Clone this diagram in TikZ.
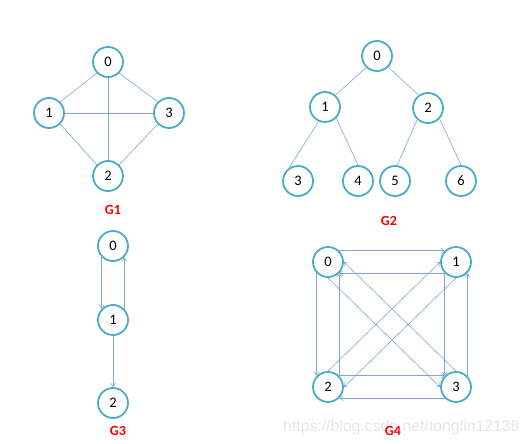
\documentclass[tikz,border=0pt]{standalone}
\usepackage{fontspec}
\setmainfont{Carlito}
\newfontfamily\wmfont{Liberation Sans}
\usetikzlibrary{arrows.meta}
\definecolor{nodeblue}{RGB}{75,172,198}
\definecolor{edgeblue}{RGB}{130,165,212}
\definecolor{labelred}{RGB}{255,0,0}
\definecolor{wmgray}{RGB}{230,230,230}
\begin{document}
\begin{tikzpicture}[x=1pt,y=-1pt,
  vtx/.style={circle,draw=nodeblue,line width=1.8pt,minimum size=30pt,inner sep=0pt,fill=white,font=\fontsize{14.5}{15}\selectfont},
  edge/.style={draw=edgeblue,line width=0.6pt},
  arc/.style={edge,-{Straight Barb[length=3.5pt,width=5pt]}},
  glabel/.style={text=labelred,font=\bfseries\fontsize{14}{15}\selectfont}]
\useasboundingbox (0,0) rectangle (530,444);
% watermark
\node[anchor=base west,text=wmgray,font=\wmfont\fontsize{15.8}{16}\selectfont,inner sep=0pt] (wm) at (283,431) {https://blog.csdn.net/tonglin12138};
% G1
\node[vtx] (a0) at (108,62) {0};
\node[vtx] (a1) at (49,113) {1};
\node[vtx] (a3) at (169,113) {3};
\node[vtx] (a2) at (108,176) {2};
\draw[edge] (a0.south west) -- (a1.north east);
\draw[edge] (a0.south east) -- (a3.north west);
\draw[edge] (a0.south) -- (a2.north);
\draw[edge] (a1.east) -- (a3.west);
\draw[edge] (a1.south east) -- (a2.north west);
\draw[edge] (a3.south west) -- (a2.north east);
\node[glabel] (g1) at (113,210) {G1};
% G2
\node[vtx] (b0) at (377,56) {0};
\node[vtx] (b1) at (325,107) {1};
\node[vtx] (b2) at (428,108) {2};
\node[vtx] (b3) at (298,181) {3};
\node[vtx] (b4) at (358,181) {4};
\node[vtx] (b5) at (395,181) {5};
\node[vtx] (b6) at (461,181) {6};
\draw[edge] (b0.-133) -- (b1.49);
\draw[edge] (b0.-45) -- (b2.126);
\draw[edge] (b1.-114) -- (b3.124);
\draw[edge] (b1.-45) -- (b4.90);
\draw[edge] (b2.-133) -- (b5.82);
\draw[edge] (b2.-43) -- (b6.90);
\node[glabel] (g2) at (389,221) {G2};
% G3
\node[vtx] (c0) at (113,246) {0};
\node[vtx] (c1) at (113,320) {1};
\node[vtx] (c2) at (113,403) {2};
\draw[arc] (c0.south west) -- (c1.north west);
\draw[arc] (c1.north east) -- (c0.south east);
\draw[arc] (c1.south) -- (c2.north);
\node[glabel] (g3) at (118,431) {G3};
% G4
\node[vtx] (d0) at (328,262) {0};
\node[vtx] (d1) at (456,262) {1};
\node[vtx] (d2) at (328,387) {2};
\node[vtx] (d3) at (456,387) {3};
\draw[arc] (d0.north east) -- (d1.north west);
\draw[arc] (d1.south west) -- (d0.south east);
\draw[arc] (d0.south west) -- (d2.north west);
\draw[arc] (d2.north east) -- (d0.south east);
\draw[arc] (d1.south west) -- (d3.north west);
\draw[arc] (d3.north east) -- (d1.south east);
\draw[arc] (d2.north east) -- (d3.north west);
\draw[arc] (d3.south west) -- (d2.south east);
\draw[arc] (d0.south) -- (d3.west);
\draw[arc] (d3.north) -- (d0.east);
\draw[arc] (d2.north) -- (d1.west);
\draw[arc] (d1.south) -- (d2.east);
\node[glabel] (g4) at (393,431) {G4};
\end{tikzpicture}
\end{document}
